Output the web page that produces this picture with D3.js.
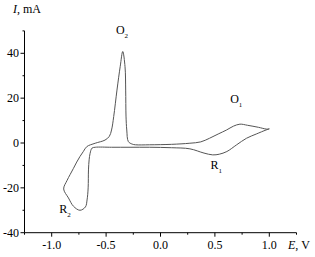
<!DOCTYPE html>
<html><head><meta charset="utf-8">
<script src="https://cdn.jsdelivr.net/npm/d3@7"></script>
<style>body{margin:0;background:#fff}svg{display:block;font-family:"Liberation Serif","Times New Roman",serif}</style>
</head><body><div id="chart"></div>
<script>
// Closed cyclic voltammogram loop, E (V) and I (mA)
const potential = [1.00, 0.97, 0.88, 0.79, 0.70, 0.61, 0.54, 0.48, 0.40, 0.27, 0.10, -0.10, -0.28, -0.45, -0.60, -0.63, -0.647, -0.656, -0.662, -0.665, -0.675, -0.69, -0.74, -0.80, -0.846, -0.89, -0.86, -0.83, -0.80, -0.77, -0.74, -0.708, -0.677, -0.60, -0.51, -0.47, -0.45, -0.43, -0.40, -0.37, -0.347, -0.326, -0.32, -0.317, -0.31, -0.295, -0.26, -0.23, -0.10, 0.10, 0.27, 0.37, 0.45, 0.53, 0.607, 0.67, 0.73, 0.80, 0.90, 0.974, 1.00];
const current   = [6.3, 5.8, 4.0, 2.1, -0.8, -3.8, -5.0, -5.3, -4.5, -2.6, -2.1, -1.9, -1.9, -1.9, -1.9, -2.3, -4.6, -7.5, -12.0, -20.0, -25.4, -28.5, -30.0, -28.2, -24.5, -20.5, -16.8, -14.0, -11.3, -8.5, -6.0, -3.7, -1.6, -0.1, 1.3, 3.0, 5.8, 11.8, 23.6, 34.2, 40.8, 34.0, 23.6, 12.0, 5.8, 0.6, -0.5, -0.8, -0.8, -0.6, -0.1, 0.5, 2.1, 4.0, 5.8, 7.5, 8.4, 7.9, 7.0, 6.2, 6.3];
const xTicks = [-1.0, -0.5, 0.0, 0.5, 1.0];
const xMinor = [-1.25, -0.75, -0.25, 0.25, 0.75, 1.25];
const yTicks = [-40, -20, 0, 20, 40];
const yMinor = [-30, -10, 10, 30, 50];
const peakLabels = [
  {name: "O", sub: "2", E: -0.41, I: 48.5},
  {name: "O", sub: "1", E: 0.64, I: 17.7},
  {name: "R", sub: "1", E: 0.46, I: -11.8},
  {name: "R", sub: "2", E: -0.93, I: -31.0}
];

const W = 315, H = 257;
const svg = d3.select("#chart").append("svg").attr("width", W).attr("height", H);
const x = d3.scaleLinear().domain([-1.25, 1.25]).range([24.5, 296.5]);
const y = d3.scaleLinear().domain([-40, 40]).range([232.7, 53.3]);
const yTop = y(50);

const ax = svg.append("g").attr("stroke", "#000").attr("stroke-width", 1).attr("fill", "none");
ax.append("line").attr("x1", x(-1.25)).attr("x2", x(1.25)).attr("y1", y(-40)).attr("y2", y(-40));
ax.append("line").attr("x1", x(-1.25)).attr("x2", x(-1.25)).attr("y1", y(-40)).attr("y2", yTop);
xTicks.forEach(t => ax.append("line").attr("x1", x(t)).attr("x2", x(t)).attr("y1", y(-40)).attr("y2", y(-40) + 4));
xMinor.forEach(t => ax.append("line").attr("x1", x(t)).attr("x2", x(t)).attr("y1", y(-40)).attr("y2", y(-40) + 2));
yTicks.forEach(t => ax.append("line").attr("x1", x(-1.25)).attr("x2", x(-1.25) - 4).attr("y1", y(t)).attr("y2", y(t)));
yMinor.forEach(t => ax.append("line").attr("x1", x(-1.25)).attr("x2", x(-1.25) - 2).attr("y1", y(t)).attr("y2", y(t)));

const fmtX = d => d3.format(".1f")(d).replace("−", "-");
svg.append("g").selectAll("text").data(xTicks).join("text")
  .attr("x", d => x(d)).attr("y", 249).attr("text-anchor", "middle")
  .attr("font-size", 12).text(fmtX);
svg.append("g").selectAll("text").data(yTicks).join("text")
  .attr("x", 19).attr("y", d => y(d) + 4).attr("text-anchor", "end")
  .attr("font-size", 12).text(d => String(d));

const yt = svg.append("text").attr("x", 13).attr("y", 13).attr("font-size", 12);
yt.append("tspan").attr("font-style", "italic").text("I");
yt.append("tspan").text(", mA");
const xt = svg.append("text").attr("x", 288).attr("y", 249).attr("font-size", 12);
xt.append("tspan").attr("font-style", "italic").text("E");
xt.append("tspan").text(", V");

const pts = potential.map((e, i) => [e, current[i]]);
const line = d3.line().x(d => x(d[0])).y(d => y(d[1])).curve(d3.curveCatmullRom.alpha(0.5));
svg.append("path").attr("d", line(pts)).attr("fill", "none").attr("stroke", "#555").attr("stroke-width", 1);

peakLabels.forEach(p => {
  const t = svg.append("text").attr("x", x(p.E)).attr("y", y(p.I)).attr("font-size", 12);
  t.append("tspan").text(p.name);
  t.append("tspan").attr("font-size", 7).attr("dy", 4).text(p.sub);
});
</script></body></html>
